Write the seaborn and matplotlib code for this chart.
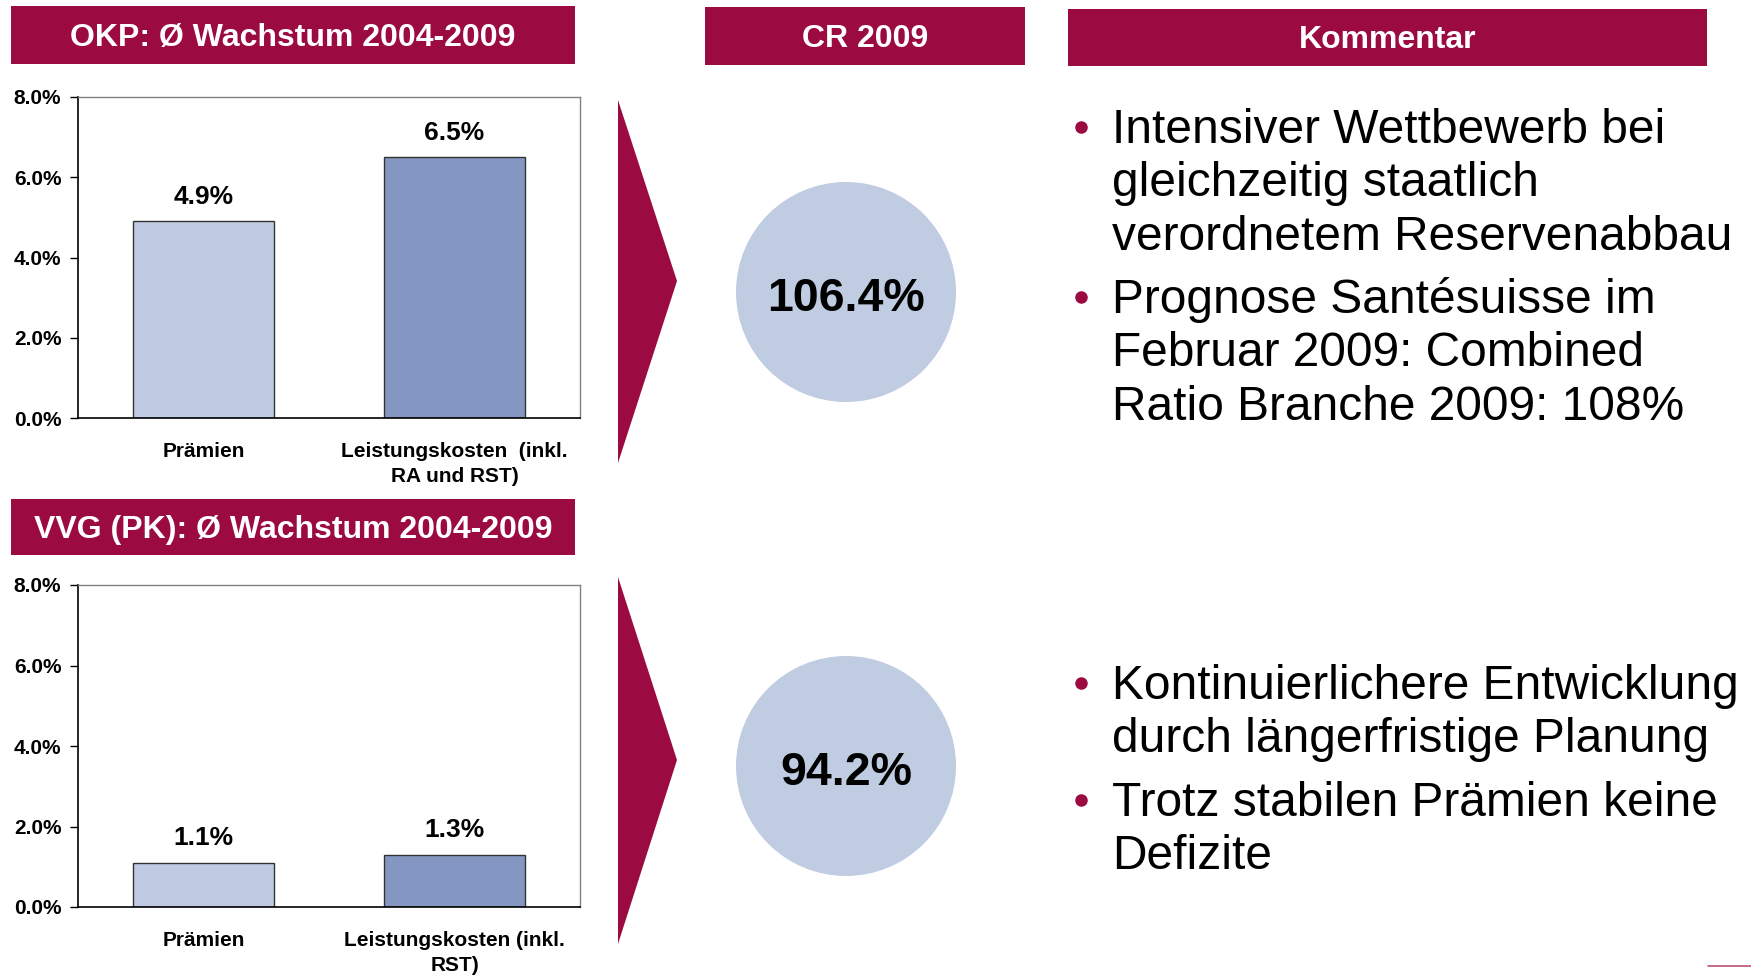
import matplotlib.pyplot as plt
import matplotlib.patches as mpatches
import seaborn as sns

# Werte aus der Folie
okp_labels = ["Prämien", "Leistungskosten  (inkl.\nRA und RST)"]
okp_growth = [4.9, 6.5]
vvg_labels = ["Prämien", "Leistungskosten (inkl.\nRST)"]
vvg_growth = [1.1, 1.3]
cr_values = [106.4, 94.2]
y_ticks = [0, 2, 4, 6, 8]

headers = ["OKP: Ø Wachstum 2004-2009", "VVG (PK): Ø Wachstum 2004-2009",
           "CR 2009", "Kommentar"]
comments_okp = [["Intensiver Wettbewerb bei", "gleichzeitig staatlich",
                 "verordnetem Reservenabbau"],
                ["Prognose Santésuisse im", "Februar 2009: Combined",
                 "Ratio Branche 2009: 108%"]]
comments_vvg = [["Kontinuierlichere Entwicklung", "durch längerfristige Planung"],
                ["Trotz stabilen Prämien keine", "Defizite"]]

RED = '#9B0B42'
BAR_COLORS = ['#C0CBE3', '#8497C3']
CIRCLE = '#C0CCE2'
W, H = 1751, 977

sns.set_style('white')
plt.rcParams['font.family'] = ['Liberation Sans', 'DejaVu Sans']
plt.rcParams['text.color'] = 'black'
plt.rcParams['xtick.color'] = 'black'
plt.rcParams['ytick.color'] = 'black'


def bar_panel(ax, labels, values):
    sns.barplot(x=labels, y=values, hue=labels, palette=BAR_COLORS, width=0.56,
                saturation=1, edgecolor='#333333', linewidth=1, legend=False, ax=ax)
    for cont in ax.containers:
        ax.bar_label(cont, fmt='%.1f%%', padding=9, fontsize=19, fontweight='bold')
    ax.set_xlim(-0.5, 1.5)
    ax.set_ylim(0, 8)
    ax.set_yticks(y_ticks)
    ax.set_yticklabels([f"{t:.1f}%" for t in y_ticks])
    ax.set_xticks([-0.5, 0.5, 1.5], minor=True)
    ax.tick_params(axis='x', which='major', length=0, pad=17, labelsize=15)
    ax.tick_params(axis='x', which='minor', length=7, width=1, direction='out', color='black')
    ax.tick_params(axis='y', length=5.5, width=1, pad=6.5, labelsize=15, left=True, color='black')
    for t in ax.get_xticklabels() + ax.get_yticklabels():
        t.set_fontweight('bold')
    for t in ax.get_xticklabels():
        t.set_linespacing(1.4)
    for side in ['left', 'bottom']:
        ax.spines[side].set_color('black')
        ax.spines[side].set_linewidth(1.2)
    for side in ['top', 'right']:
        ax.spines[side].set_color('#808080')
        ax.spines[side].set_linewidth(1)
    ax.set_xlabel('')
    ax.set_ylabel('')


fig = plt.figure(figsize=(W / 100, H / 100), dpi=100)

ax1 = fig.add_axes([78 / W, 1 - 418 / H, 502 / W, 321 / H])
bar_panel(ax1, okp_labels, okp_growth)
ax2 = fig.add_axes([78 / W, 1 - 907 / H, 502 / W, 322 / H])
bar_panel(ax2, vvg_labels, vvg_growth)

# Ebene in Pixelkoordinaten für Titelbalken, Pfeile, Kreise und Text
over = fig.add_axes([0, 0, 1, 1])
over.set_xlim(0, W)
over.set_ylim(H, 0)
over.axis('off')

boxes = [(11, 6, 575, 64), (11, 499, 575, 555), (705, 7, 1025, 65), (1068, 9, 1707, 66)]
for (x0, y0, x1, y1), txt in zip(boxes, headers):
    over.add_patch(mpatches.Rectangle((x0, y0), x1 - x0, y1 - y0, color=RED, lw=0))
    over.text((x0 + x1) / 2, (y0 + y1) / 2 + 3, txt, color='white', fontsize=23,
              fontweight='bold', ha='center', va='center')

for top, tip, bot in [(100, 281, 463), (577, 760, 944)]:
    over.add_patch(mpatches.Polygon([(618, top), (677, tip), (618, bot)], closed=True,
                                    color=RED, lw=0))

for cy, val in zip([292, 766], cr_values):
    over.add_patch(mpatches.Circle((846, cy), 110, color=CIRCLE, lw=0))
    over.text(846, cy + 7, f"{val:.1f}%", fontsize=33.5, fontweight='bold',
              ha='center', va='center')


def bullets(items, y):
    for lines in items:
        over.plot(1081, y - 16, 'o', color=RED, markersize=8)
        for line in lines:
            over.text(1112, y, line, fontsize=34.5, ha='left', va='baseline')
            y += 53.5
        y += 9.5


bullets(comments_okp, 143)
bullets(comments_vvg, 699)

over.plot([1708, W], [966, 966], color=RED, lw=1.2, alpha=0.7)

fig.savefig('out.png', dpi=100)
